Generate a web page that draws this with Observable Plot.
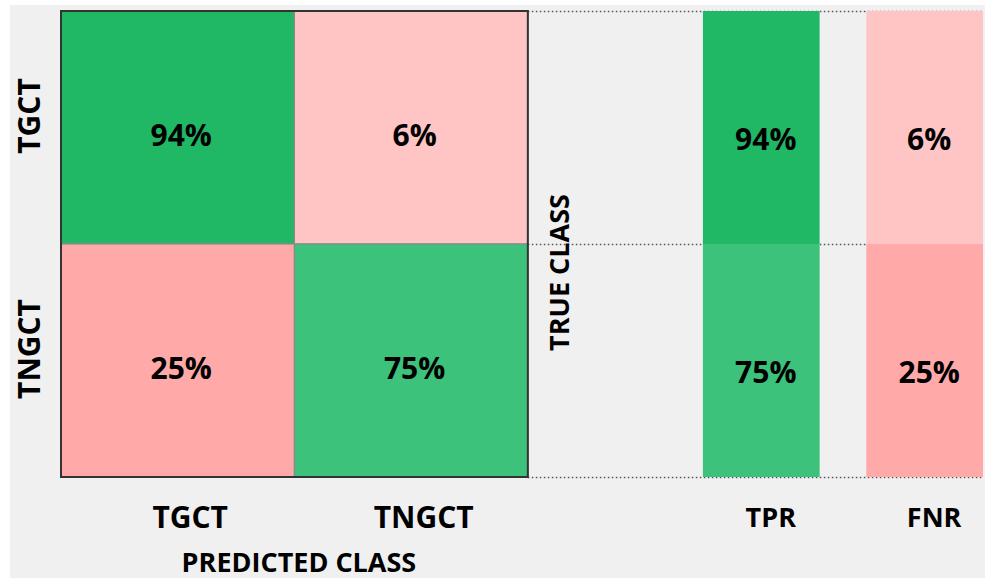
<!DOCTYPE html>
<html>
<head>
<meta charset="utf-8">
<script src="https://cdn.jsdelivr.net/npm/d3@7"></script>
<script src="https://cdn.jsdelivr.net/npm/@observablehq/plot@0.6"></script>
<style>
  html, body { margin: 0; padding: 0; background: #ffffff; }
  #chart svg { display: block; background: #f0f0f0;
    box-shadow: inset 10px 5px 0 #ffffff, inset -5px 0 0 #ffffff; }
</style>
</head>
<body>
<div id="chart"></div>
<script>
// ---- data ----
const trueClasses = ["TGCT", "TNGCT"];
const predictedClasses = ["TGCT", "TNGCT"];
const matrixValues = [[94, 6], [25, 75]];   // rows: true class, cols: predicted class
const rateNames = ["TPR", "FNR"];
const tprValues = [94, 75];
const fnrValues = [6, 25];
const axisTitleX = "PREDICTED CLASS";
const axisTitleY = "TRUE CLASS";

// ---- layout (in matrix-cell units) ----
const nCols = predictedClasses.length;
const nRows = trueClasses.length;
const rateSpan = {TPR: [2.75, 3.25], FNR: [3.45, 3.95]};
const xMax = 3.95;

const greenScale = d3.scaleLinear().domain([75, 94]).range(["#3cc27a", "#21b865"]);
const pinkScale = d3.scaleLinear().domain([6, 25]).range(["#ffc5c5", "#ffa9a9"]);
const colorFor = (v, correct) => correct ? greenScale(v) : pinkScale(v);

const cells = [];
trueClasses.forEach((t, r) => predictedClasses.forEach((p, c) => {
  cells.push({row: r, col: c, value: matrixValues[r][c], correct: r === c});
}));
const rates = [];
trueClasses.forEach((t, r) => {
  rates.push({name: "TPR", row: r, value: tprValues[r], correct: true});
  rates.push({name: "FNR", row: r, value: fnrValues[r], correct: false});
});

const font = "'Open Sans', 'DejaVu Sans', sans-serif";

const chart = Plot.plot({
  width: 990,
  height: 578,
  marginLeft: 61,
  marginRight: 7,
  marginTop: 11,
  marginBottom: 101,
  x: {domain: [0, xMax], axis: null},
  y: {domain: [nRows, 0], axis: null},
  style: {fontFamily: font, color: "#000"},
  marks: [
    // dotted guide lines for the rate panel
    Plot.ruleY(d3.range(nRows + 1), {x1: nCols, x2: xMax, stroke: "#555", strokeWidth: 1.5, strokeDasharray: "1.5,2.5"}),
    // confusion matrix cells
    Plot.rect(cells, {x1: d => d.col, x2: d => d.col + 1, y1: d => d.row, y2: d => d.row + 1,
      fill: d => colorFor(d.value, d.correct), stroke: "#8a8a8a", strokeWidth: 1.2}),
    // outer matrix border
    Plot.rect([0], {x1: 0, x2: nCols, y1: 0, y2: nRows, fill: "none", stroke: "#333", strokeWidth: 2}),
    // rate columns
    Plot.rect(rates, {x1: d => rateSpan[d.name][0], x2: d => rateSpan[d.name][1], y1: d => d.row, y2: d => d.row + 1,
      fill: d => colorFor(d.value, d.correct)}),
    // matrix value labels
    Plot.text(cells, {x: d => d.col + 0.5, y: d => d.row + 0.5, text: d => d.value + "%",
      dx: 3, dy: 8, fontSize: 30, fontWeight: "bold", fill: "#000"}),
    // rate value labels
    Plot.text(rates, {x: d => (rateSpan[d.name][0] + rateSpan[d.name][1]) / 2, y: d => d.row + 0.5,
      text: d => d.value + "%", dx: 4, dy: 12, fontSize: 30, fontWeight: "bold", fill: "#000"}),
    // predicted class tick labels
    Plot.text(predictedClasses, {x: (d, i) => i + 0.5, frameAnchor: "bottom", dy: 50, dx: 12,
      fontSize: 30, fontWeight: "bold", fill: "#000"}),
    // rate names
    Plot.text(rateNames, {x: d => (rateSpan[d][0] + rateSpan[d][1]) / 2, frameAnchor: "bottom", dy: 49, dx: 9,
      fontSize: 27, fontWeight: "bold", fill: "#000"}),
    // true class tick labels (rotated)
    Plot.text(trueClasses, {y: (d, i) => i + 0.5, frameAnchor: "left", textAnchor: "middle", dx: -31, dy: -12,
      rotate: -90, fontSize: 30, fontWeight: "bold", fill: "#000"}),
    // axis titles
    Plot.text([axisTitleX], {x: nCols / 2, frameAnchor: "bottom", dy: 94, dx: 4,
      fontSize: 27, fontWeight: "bold", fill: "#000"}),
    Plot.text([axisTitleY], {x: nCols, y: nRows / 2, dx: 32, dy: 28, rotate: -90,
      fontSize: 27, fontWeight: "bold", fill: "#000"})
  ]
});
document.getElementById("chart").appendChild(chart);
</script>
</body>
</html>
